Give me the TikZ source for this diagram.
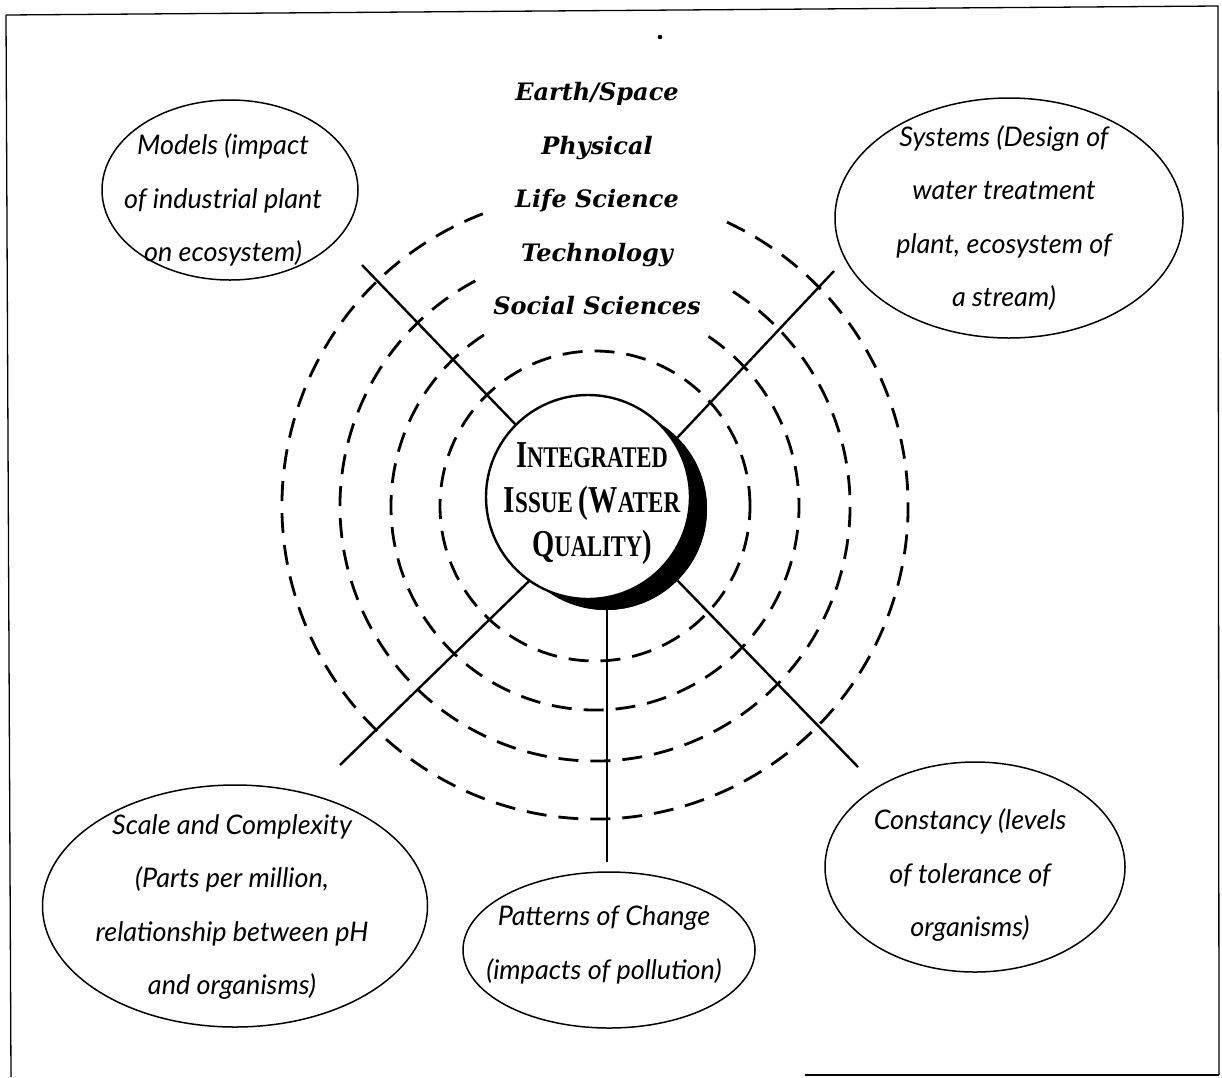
\documentclass[tikz,border=0pt]{standalone}
\usepackage{fontspec}
\usepackage{graphicx}
\usetikzlibrary{shapes.geometric}
\setmainfont{Liberation Serif}
\newfontfamily\ovalfont{Lato}
\newfontfamily\topfont{DejaVu Serif}
\newcommand\bigsc[2]{{\fontsize{38}{44.5}\selectfont #1}{\fontsize{30}{44.5}\selectfont #2}}
\tikzset{
  ring/.style={line width=2.8pt, dash pattern=on 20pt off 12pt},
  spoke/.style={line width=2.4pt},
  oval/.style={ellipse, draw, line width=1.5pt, inner sep=0pt},
  ovaltext/.style={align=center, inner sep=0pt, font=\ovalfont\itshape\fontsize{27}{53.3}\selectfont},
  frame/.style={line width=1.3pt}
}
\begin{document}
\begin{tikzpicture}[x=1pt,y=1pt]
\useasboundingbox (0,0) rectangle (1222,-1077);
% frame
\draw[frame] (6,-15) -- (1218,-6) -- (1219,-1075);
\draw[frame] (805,-1075) -- (1219,-1075);
\draw[frame] (6,-15) -- (11,-1077);
\fill (660,-37) circle (2.3);
% dashed rings
\coordinate (rc) at (595,-506);
\draw[ring] (rc) ++(111:313) arc[start angle=111, end angle=426, radius=313];
\draw[ring] (rc) ++(118:255) arc[start angle=118, end angle=419, radius=255];
\draw[ring] (rc) ++(123:204) arc[start angle=123, end angle=417, radius=204];
\draw[ring] (rc) circle (155);
% centre nodes
\node[circle, fill=black, minimum size=202pt, inner sep=0pt] (shd) at (606,-509) {};
\node[circle, minimum size=204pt, inner sep=0pt] (ctr) at (588,-497) {};
% spoke ends
\coordinate (ulend) at (362,-265);
\coordinate (urend) at (834,-271);
\coordinate (llend) at (340,-765);
\coordinate (bend) at (607,-862);
\coordinate (lrend) at (858,-767);
\draw[spoke] (ctr.135) -- (ulend);
\draw[spoke] (shd.45) -- (urend);
\draw[spoke] (ctr.235) -- (llend);
\draw[spoke] (bend |- shd.south) -- (bend);
\draw[spoke] (shd.315) -- (lrend);
% redraw centre on top
\fill[black] (shd.center) circle (101);
\draw[line width=2.4pt, fill=white] (ctr.center) circle (102);
\node[align=center, inner sep=0pt, font=\bfseries\fontsize{30}{44.5}\selectfont] (ctrtext) at (592,-504)
  {\scalebox{0.75}[1]{\bigsc{I}{NTEGRATED}}\\
   \scalebox{0.77}[1]{\bigsc{I}{SSUE} \bigsc{(W}{ATER}}\\
   \scalebox{0.75}[1]{\bigsc{Q}{UALITY}\bigsc{)}{}}};
% top labels
\node[align=center, inner sep=0pt, font=\topfont\bfseries\itshape\fontsize{24}{53.5}\selectfont] (disc) at (597,-199)
  {Earth/Space\\Physical\\Life Science\\Technology\\Social Sciences};
% ovals
\node[oval, minimum width=256pt, minimum height=180pt] (models) at (230,-190) {};
\node[ovaltext] (modelst) at (223,-200) {Models (impact\\of industrial plant\\on ecosystem)};
\node[oval, minimum width=348pt, minimum height=240pt] (systems) at (1009,-218) {};
\node[ovaltext] (systemst) at (1004,-218) {Systems (Design of\\water treatment\\plant, ecosystem of\\a stream)};
\node[oval, minimum width=385pt, minimum height=242pt] (scale) at (235,-906) {};
\node[ovaltext] (scalet) at (232,-907) {Scale and Complexity\\(Parts per million,\\relationship between pH\\and organisms)};
\node[oval, minimum width=292pt, minimum height=156pt] (patterns) at (609,-950) {};
\node[ovaltext] (patternst) at (604,-945) {Patterns of Change\\(impacts of pollution)};
\node[oval, minimum width=300pt, minimum height=210pt] (constancy) at (975,-867) {};
\node[ovaltext] (constancyt) at (970,-875) {Constancy (levels\\of tolerance of\\organisms)};
\end{tikzpicture}
\end{document}
